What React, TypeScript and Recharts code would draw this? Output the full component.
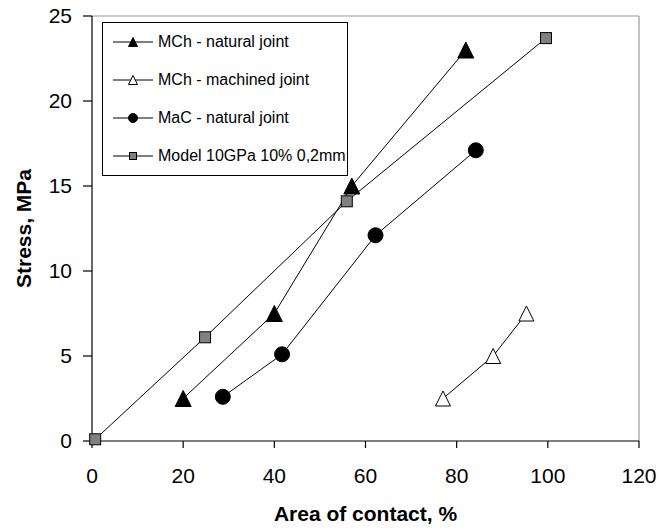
import { ScatterChart, Scatter, XAxis, YAxis, ReferenceLine, Legend } from "recharts";

// area of contact (%) and stress (MPa)
const mchNaturalArea = [20, 40, 57, 82];
const mchNaturalStress = [2.5, 7.5, 15, 23];

const mchMachinedArea = [77, 88, 95.3];
const mchMachinedStress = [2.5, 5, 7.5];

const macNaturalArea = [28.7, 41.7, 62.2, 84.2];
const macNaturalStress = [2.6, 5.1, 12.1, 17.1];

const modelArea = [0.7, 24.8, 55.9, 99.6];
const modelStress = [0.1, 6.1, 14.1, 23.7];

const xTicks = [0, 20, 40, 60, 80, 100, 120];
const yTicks = [0, 5, 10, 15, 20, 25];

const FONT = "'Liberation Sans', Arial, sans-serif";

const toPoints = (xs: number[], ys: number[]) => xs.map((x, i) => ({ x, y: ys[i] }));

type Marker = "triFilled" | "triOpen" | "circle" | "square";

const drawMarker = (kind: Marker, cx: number, cy: number, s: number) => {
  const h = s / 2;
  switch (kind) {
    case "triFilled":
    case "triOpen":
      return (
        <polygon
          points={`${cx},${cy - h} ${cx - h},${cy + h} ${cx + h},${cy + h}`}
          fill={kind === "triFilled" ? "#000" : "#fff"}
          stroke="#000"
          strokeWidth={1}
        />
      );
    case "circle":
      return <circle cx={cx} cy={cy} r={h} fill="#000" stroke="#000" strokeWidth={1} />;
    default:
      return (
        <rect x={cx - h} y={cy - h} width={s} height={s} fill="#808080" stroke="#000" strokeWidth={1} />
      );
  }
};

const series: { name: string; marker: Marker; size: number; data: { x: number; y: number }[] }[] = [
  { name: "MCh - natural joint", marker: "triFilled", size: 16, data: toPoints(mchNaturalArea, mchNaturalStress) },
  { name: "MCh - machined joint", marker: "triOpen", size: 15, data: toPoints(mchMachinedArea, mchMachinedStress) },
  { name: "MaC - natural joint", marker: "circle", size: 15, data: toPoints(macNaturalArea, macNaturalStress) },
  { name: "Model 10GPa 10% 0,2mm", marker: "square", size: 11, data: toPoints(modelArea, modelStress) },
];

const LegendBox = () => (
  <div
    style={{
      border: "1px solid #000",
      background: "#fff",
      width: 244,
      height: 152,
      boxSizing: "content-box",
      fontFamily: FONT,
      fontSize: 16,
      color: "#000",
    }}
  >
    {series.map((s, i) => (
      <div
        key={s.name}
        style={{
          position: "absolute",
          left: 10,
          top: 20 + i * 38 - 11,
          height: 22,
          display: "flex",
          alignItems: "center",
          whiteSpace: "nowrap",
        }}
      >
        <svg width={46} height={22} style={{ display: "block" }}>
          <line x1={1} x2={41} y1={11} y2={11} stroke="#000" strokeWidth={1} />
          {drawMarker(s.marker, 21, 11, s.marker === "square" ? 7 : 9)}
        </svg>
        <span>{s.name}</span>
      </div>
    ))}
  </div>
);

export default function App() {
  return (
    <div style={{ position: "absolute", left: 0, top: 0 }}>
      <ScatterChart
        width={661}
        height={530}
        margin={{ top: 16, right: 22, bottom: 0, left: 0 }}
        style={{ fontFamily: FONT }}
      >
        <XAxis
          type="number"
          dataKey="x"
          domain={[0, 120]}
          ticks={xTicks}
          interval={0}
          height={89}
          tickSize={7}
          tickMargin={20}
          axisLine={{ stroke: "#000", strokeWidth: 1.2 }}
          tickLine={{ stroke: "#000", strokeWidth: 1.2 }}
          tick={{ fill: "#000", fontSize: 21, fontFamily: FONT }}
          label={{
            value: "Area of contact, %",
            position: "insideBottom",
            offset: 9,
            style: { fill: "#000", fontSize: 21, fontWeight: "bold", fontFamily: FONT },
          }}
        />
        <YAxis
          type="number"
          dataKey="y"
          domain={[0, 25]}
          ticks={yTicks}
          interval={0}
          width={92}
          tickSize={9}
          tickMargin={11}
          axisLine={{ stroke: "#000", strokeWidth: 1.2 }}
          tickLine={{ stroke: "#000", strokeWidth: 1.2 }}
          tick={{ fill: "#000", fontSize: 21, fontFamily: FONT }}
          label={{
            value: "Stress, MPa",
            angle: -90,
            position: "insideLeft",
            offset: 24,
            style: { fill: "#000", fontSize: 21, fontWeight: "bold", fontFamily: FONT, textAnchor: "middle" },
          }}
        />
        <ReferenceLine y={25} stroke="#999" strokeWidth={1.2} ifOverflow="extendDomain" />
        <ReferenceLine x={120} stroke="#999" strokeWidth={1.2} ifOverflow="extendDomain" />
        <Legend
          layout="vertical"
          align="center"
          verticalAlign="middle"
          content={() => <LegendBox />}
          wrapperStyle={{ left: 102, top: 22, width: 246, height: 154, position: "absolute" }}
        />
        {series.map((s) => (
          <Scatter
            key={s.name}
            name={s.name}
            data={s.data}
            isAnimationActive={false}
            line={{ stroke: "#000", strokeWidth: 1 }}
            shape={(p: any) => drawMarker(s.marker, p.cx, p.cy, s.size)}
          />
        ))}
      </ScatterChart>
    </div>
  );
}
